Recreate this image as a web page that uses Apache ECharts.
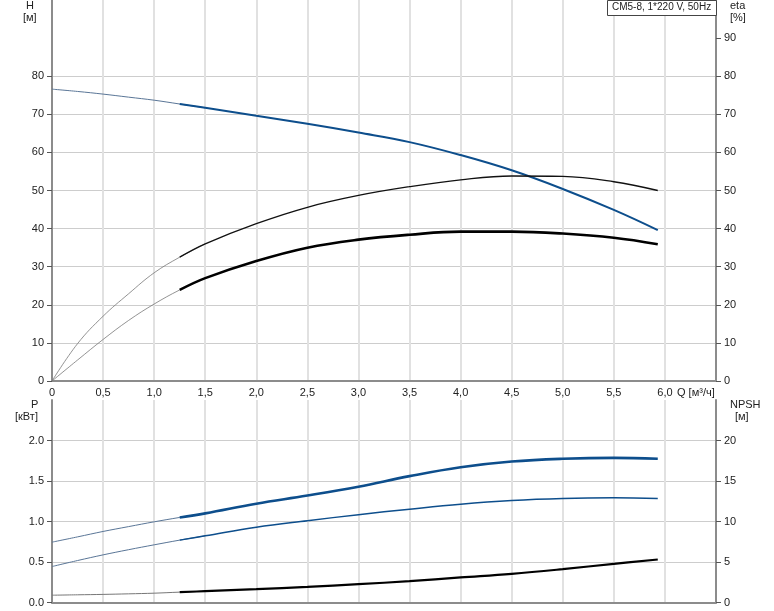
<!DOCTYPE html>
<html><head><meta charset="utf-8">
<script src="https://cdn.jsdelivr.net/npm/echarts@6/dist/echarts.min.js"></script>
<style>html,body{margin:0;padding:0;background:#fff}#c{width:774px;height:611px}</style>
</head><body><div id="c"></div>
<script>
// Flow rate Q [m3/h]
var Q = [0, 0.25, 0.5, 0.75, 1.0, 1.25, 1.5, 2.0, 2.5, 3.0, 3.5, 4.0, 4.5, 5.0, 5.5, 5.93];
// Head H [m]
var H = [76.6, 76.0, 75.3, 74.5, 73.7, 72.7, 71.7, 69.6, 67.5, 65.2, 62.7, 59.3, 55.3, 50.4, 44.9, 39.6];
// Pump efficiency [%]
var ETA_PUMP = [0, 9.8, 17.0, 22.9, 28.4, 32.5, 36.0, 41.3, 45.6, 48.7, 51.0, 52.8, 53.8, 53.7, 52.3, 50.0];
// Total efficiency [%]
var ETA_TOTAL = [0, 5.5, 10.9, 15.9, 20.2, 23.9, 27.0, 31.5, 35.0, 37.1, 38.4, 39.2, 39.2, 38.7, 37.6, 35.9];
// Power P1, P2 [kW]
var P1 = [0.745, 0.81, 0.877, 0.937, 0.996, 1.05, 1.10, 1.22, 1.32, 1.43, 1.56, 1.67, 1.74, 1.774, 1.786, 1.774];
var P2 = [0.444, 0.518, 0.588, 0.652, 0.712, 0.77, 0.823, 0.93, 1.01, 1.084, 1.152, 1.214, 1.259, 1.284, 1.292, 1.284];
// NPSH [m]
var NPSH = [0.9, 0.95, 1.0, 1.07, 1.15, 1.28, 1.4, 1.65, 1.93, 2.26, 2.63, 3.09, 3.54, 4.12, 4.77, 5.31];
var SPLIT = 5; // index where the thick (duty range) part starts
var TITLE = 'CM5-8, 1*220 V, 50Hz';
var H_TICKS = [0, 10, 20, 30, 40, 50, 60, 70, 80];
var ETA_TICKS = [0, 10, 20, 30, 40, 50, 60, 70, 80, 90];
var P_TICKS = [0, 0.5, 1.0, 1.5, 2.0];
var NPSH_TICKS = [0, 5, 10, 15, 20];

function pairs(arr){ return Q.map(function(q,i){ return [q, arr[i]]; }); }
var FONT = 'Liberation Sans, Arial, sans-serif';
var TXT = '#222';
var AX = '#8c8c8c';
var SMOOTH = 0.4;

function seg(arr, xi, yi, color, thinColor, width, thinWidth, lastLabel){
  var d = pairs(arr);
  var thick = d.slice(SPLIT).map(function(p){ return {value:p}; });
  if (lastLabel) {
    thick[thick.length-1].label = {show:true, formatter:lastLabel.text, position:lastLabel.pos, distance:1,
      color:'#2b4d74', fontFamily:FONT, fontSize:11};
  }
  return [
    {type:'line', xAxisIndex:xi, yAxisIndex:yi, data:d.slice(0, SPLIT+2), smooth:SMOOTH, symbol:'none',
     lineStyle:{color:thinColor, width:thinWidth}, silent:true, animation:false, z:3},
    {type:'line', xAxisIndex:xi, yAxisIndex:yi, data:thick, smooth:SMOOTH, symbol:'none', showSymbol:false,
     lineStyle:{color:color, width:width}, silent:true, animation:false, z:4,
     labelLayout:{hideOverlap:false}}
  ];
}

function xAx(gi, showLabels){
  return {type:'value', gridIndex:gi, min:0, max:6.5, interval:0.5,
    axisLine:{show:true, onZero:false, lineStyle:{color:AX, width:2}},
    axisTick:{show:false},
    axisLabel:{show:showLabels, color:TXT, fontFamily:FONT, fontSize:11, margin:6,
      formatter:function(v){ if (v>=6.5) return ''; if (v===0) return '0'; return v.toFixed(1).replace('.', ','); }},
    splitLine:{show:true, lineStyle:{color:'#e1e1e1', width:2}}};
}
function yAx(gi, pos, max, interval, ticks, fmt, split){
  return {type:'value', gridIndex:gi, position:pos, min:0, max:max, interval:interval,
    axisLine:{show:true, onZero:false, lineStyle:{color:AX, width:2}},
    axisTick:{show:true, length:5, customValues:ticks, lineStyle:{color:'#555', width:1}},
    axisLabel:{color:TXT, fontFamily:FONT, fontSize:11, margin:8, customValues:ticks, formatter:fmt},
    splitLine:{show:split, lineStyle:{color:'#cdcdcd', width:1}}};
}

var series = []
  .concat(seg(H, 0, 0, '#0d4e8c', '#5a7697', 2, 1))
  .concat(seg(ETA_PUMP, 0, 1, '#111', '#777', 1.3, 0.8))
  .concat(seg(ETA_TOTAL, 0, 1, '#000', '#777', 2.6, 0.8))
  .concat(seg(P1, 1, 2, '#0d4e8c', '#5a7697', 2.6, 1, {text:'P1', pos:'top'}))
  .concat(seg(P2, 1, 2, '#0d4e8c', '#5a7697', 1.5, 1, {text:'P2', pos:'bottom'}))
  .concat(seg(NPSH, 1, 3, '#000', '#777', 2.2, 1));

var chart = echarts.init(document.getElementById('c'), null, {renderer:'canvas'});
chart.setOption({
  backgroundColor:'#fff',
  animation:false,
  grid:[
    {left:52, right:58, top:0, height:381, containLabel:false},
    {left:52, right:58, top:400, height:202.5, containLabel:false}
  ],
  xAxis:[xAx(0, true), xAx(1, false)],
  yAxis:[
    yAx(0, 'left', 100, 10, H_TICKS, function(v){ return String(v); }, true),
    yAx(0, 'right', 100, 10, ETA_TICKS, function(v){ return String(v); }, false),
    yAx(1, 'left', 2.5, 0.5, P_TICKS, function(v){ return v.toFixed(1); }, true),
    yAx(1, 'right', 25, 5, NPSH_TICKS, function(v){ return String(v); }, false)
  ],
  series: series,
  graphic:[
    {type:'text', left:26, top:0, style:{text:'H', fill:TXT, font:'11px ' + FONT}},
    {type:'text', left:23, top:12, style:{text:'[м]', fill:TXT, font:'11px ' + FONT}},
    {type:'text', left:730, top:0, style:{text:'eta', fill:TXT, font:'11px ' + FONT}},
    {type:'text', left:730, top:12, style:{text:'[%]', fill:TXT, font:'11px ' + FONT}},
    {type:'text', left:31, top:399, style:{text:'P', fill:TXT, font:'11px ' + FONT}},
    {type:'text', left:15, top:411, style:{text:'[кВт]', fill:TXT, font:'11px ' + FONT}},
    {type:'text', left:730, top:399, style:{text:'NPSH', fill:TXT, font:'11px ' + FONT}},
    {type:'text', left:735, top:411, style:{text:'[м]', fill:TXT, font:'11px ' + FONT}},
    {type:'text', left:677, top:387, style:{text:'Q [м³/ч]', fill:TXT, font:'11px ' + FONT}},
    {type:'group', left:607, top:0, children:[
      {type:'rect', shape:{x:0.5, y:0.5, width:109, height:15}, style:{fill:'#fff', stroke:'#444', lineWidth:1}, z:100},
      {type:'text', x:5, y:2, style:{text:TITLE, fill:TXT, font:'10px ' + FONT}, z:101}
    ]}
  ]
});
</script></body></html>
